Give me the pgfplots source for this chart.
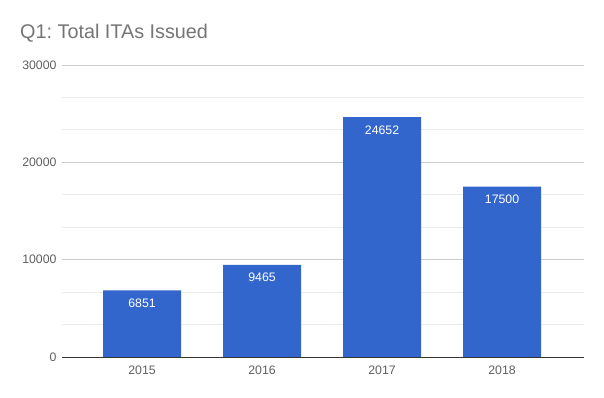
\documentclass[border=0pt]{standalone}
\usepackage{fontspec}
\setmainfont{Liberation Sans}
\usepackage{pgfplots}
\pgfplotsset{compat=1.18}
\definecolor{barblue}{HTML}{3366CC}
\definecolor{majgrid}{HTML}{CCCCCC}
\definecolor{mingrid}{HTML}{EBEBEB}
\definecolor{ticktxt}{HTML}{5F5F5F}
\definecolor{titletxt}{HTML}{757575}
\begin{document}
\frenchspacing
\begin{tikzpicture}
\useasboundingbox (0,0) rectangle (604pt,398pt);
\node[anchor=west, text=titletxt, font=\fontsize{19.8}{22}\selectfont, inner sep=0pt] at (20pt,365pt) {Q1: Total ITAs Issued};
\begin{axis}[
  at={(62pt,41pt)}, anchor=south west,
  scale only axis, width=522pt, height=292pt,
  xmin=-0.667, xmax=3.683,
  ymin=0, ymax=30000,
  ybar, bar width=0.65, bar shift=0pt,
  xtick={0,1,2,3}, xticklabels={2015,2016,2017,2018},
  ytick={0,10000,20000,30000},
  minor ytick={3333.33,6666.67,13333.33,16666.67,23333.33,26666.67},
  ymajorgrids, yminorgrids,
  major grid style={majgrid, line width=0.8pt},
  minor grid style={mingrid, line width=0.8pt},
  axis line style={draw=none},
  major tick length=0pt, minor tick length=0pt,
  tick style={draw=none},
  scaled y ticks=false,
  /pgf/number format/assume math mode=true,
  yticklabel style={/pgf/number format/fixed, /pgf/number format/1000 sep={}, font=\fontsize{12.3}{14}\selectfont, text=ticktxt, xshift=-2pt},
  xticklabel style={font=\fontsize{12.3}{14}\selectfont, text=ticktxt, yshift=-5pt},
  clip=false,
  nodes near coords,
  every node near coord/.append style={anchor=north, text=white, font=\fontsize{12.3}{14}\selectfont, yshift=-5pt, /pgf/number format/1000 sep={}},
]
\addplot[fill=barblue, draw=none] coordinates {(0,6851) (1,9465) (2,24652) (3,17500)};
\draw[color=black!80, line width=0.9pt] (axis cs:-0.667,0) -- (axis cs:3.683,0);
\end{axis}
\end{tikzpicture}
\end{document}
